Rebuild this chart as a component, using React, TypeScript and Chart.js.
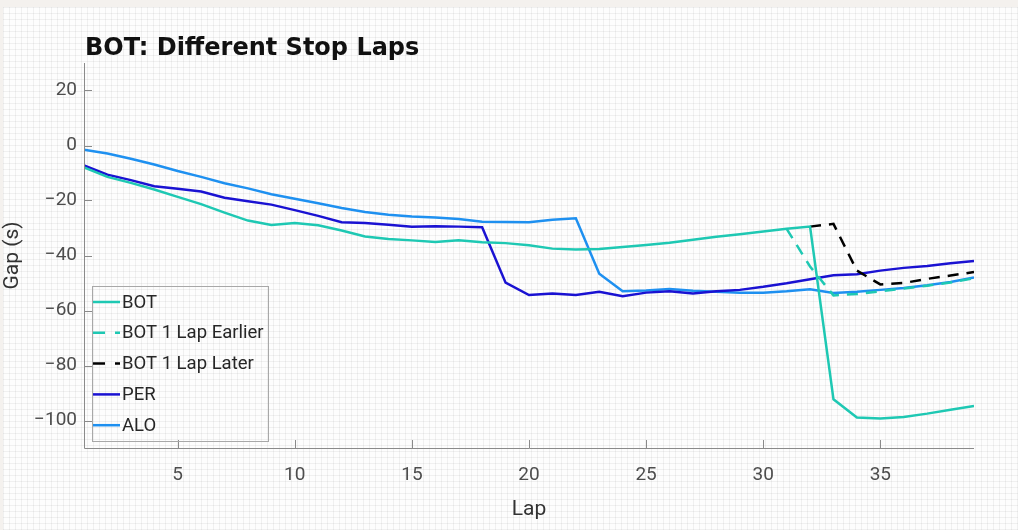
import React, { useEffect, useRef } from "react";
import { Chart, registerables } from "chart.js";

Chart.register(...registerables);

const titleText = "BOT: Different Stop Laps";
const xTitle = "Lap";
const yTitle = "Gap (s)";

const laps = [
  1, 2, 3, 4, 5, 6, 7, 8, 9, 10, 11, 12, 13, 14, 15, 16, 17, 18, 19, 20,
  21, 22, 23, 24, 25, 26, 27, 28, 29, 30, 31, 32, 33, 34, 35, 36, 37, 38, 39,
];

const bot = [
  -8, -11.4, -13.6, -16, -18.7, -21.3, -24.4, -27.3, -28.9, -28.2, -29, -30.9,
  -33.1, -34, -34.5, -35.1, -34.5, -35.2, -35.5, -36.3, -37.5, -37.8, -37.6,
  -36.9, -36.2, -35.4, -34.3, -33.2, -32.3, -31.3, -30.3, -29.5, -92.3, -98.9,
  -99.3, -98.7, -97.5, -96.1, -94.7,
];

const botEarlier = [
  null, null, null, null, null, null, null, null, null, null, null, null, null,
  null, null, null, null, null, null, null, null, null, null, null, null, null,
  null, null, null, null, -30.3, -44, -54.5, -54, -53, -52, -51, -49.8, -48.3,
];

const botLater = [
  null, null, null, null, null, null, null, null, null, null, null, null, null,
  null, null, null, null, null, null, null, null, null, null, null, null, null,
  null, null, null, null, null, -29.5, -28.5, -45.5, -50.5, -50, -48.5, -47.3,
  -46,
];

const per = [
  -7.2, -10.6, -12.6, -14.8, -15.7, -16.7, -19, -20.3, -21.5, -23.5, -25.6,
  -27.9, -28.2, -28.8, -29.5, -29.4, -29.5, -29.7, -49.9, -54.4, -53.8, -54.4,
  -53.2, -54.8, -53.5, -53, -53.8, -53, -52.5, -51.4, -50.1, -48.6, -47.2,
  -46.8, -45.5, -44.5, -43.8, -42.8, -42,
];

const alo = [
  -1.5, -2.9, -4.8, -6.9, -9.3, -11.4, -13.7, -15.6, -17.7, -19.4, -21, -22.7,
  -24.2, -25.2, -25.8, -26.2, -26.7, -27.7, -27.8, -27.9, -27, -26.5, -46.6,
  -53, -52.7, -52.2, -52.8, -53.2, -53.5, -53.5, -53, -52.3, -53.6, -53.2,
  -52.5, -51.8, -50.8, -49.6, -48,
];

const seriesLabels = ["BOT", "BOT 1 Lap Earlier", "BOT 1 Lap Later", "PER", "ALO"];
const seriesColors = ["#1ec8b3", "#1ec8b3", "#000000", "#1a12d2", "#1e90f0"];

const xTicks = [5, 10, 15, 20, 25, 30, 35];
const yTicks = [-100, -80, -60, -40, -20, 0, 20];
const xRange = [1, 39];
const yRange = [-110, 30];

const toPoints = (arr: (number | null)[]) =>
  laps
    .map((l, i) => ({ x: l, y: arr[i] }))
    .filter((p) => p.y !== null) as { x: number; y: number }[];

const FONT = "Roboto";
const DASH = [11, 8];

const decorPlugin = {
  id: "decor",
  afterDraw(chart: any) {
    const ctx = chart.ctx;
    const area = chart.chartArea;
    const xs = chart.scales.x;
    const ys = chart.scales.y;
    ctx.save();
    // axes lines
    ctx.strokeStyle = "#8a8a8a";
    ctx.lineWidth = 1;
    ctx.beginPath();
    ctx.moveTo(area.left + 0.5, area.top);
    ctx.lineTo(area.left + 0.5, area.bottom + 0.5);
    ctx.lineTo(area.right, area.bottom + 0.5);
    ctx.stroke();
    // inward ticks
    ctx.beginPath();
    yTicks.forEach((v) => {
      const py = Math.round(ys.getPixelForValue(v)) + 0.5;
      ctx.moveTo(area.left, py);
      ctx.lineTo(area.left + 8, py);
    });
    xTicks.forEach((v) => {
      const px = Math.round(xs.getPixelForValue(v)) + 0.5;
      ctx.moveTo(px, area.bottom);
      ctx.lineTo(px, area.bottom - 8);
    });
    ctx.stroke();

    // title
    ctx.fillStyle = "#111111";
    ctx.font = 'bold 24px "DejaVu Sans"';
    ctx.textBaseline = "alphabetic";
    ctx.textAlign = "left";
    ctx.fillText(titleText, area.left + 1, 55);

    // legend
    const bx = area.left + 8;
    const by = area.bottom - 162;
    const bw = 176;
    const bh = 155;
    ctx.strokeStyle = "#a8a8a8";
    ctx.lineWidth = 1;
    ctx.strokeRect(bx + 0.5, by + 0.5, bw, bh);
    ctx.font = `18.5px ${FONT}`;
    ctx.textBaseline = "middle";
    chart.data.datasets.forEach((ds: any, i: number) => {
      const cy = by + 16 + i * 30.8;
      ctx.strokeStyle = ds.borderColor;
      ctx.lineWidth = 2.5;
      ctx.setLineDash(ds.borderDash && ds.borderDash.length ? [12, 10] : []);
      ctx.beginPath();
      ctx.moveTo(bx + 1, cy);
      ctx.lineTo(bx + 28, cy);
      ctx.stroke();
      ctx.setLineDash([]);
      ctx.fillStyle = "#262626";
      ctx.fillText(ds.label, bx + 30, cy + 1);
    });
    ctx.restore();
  },
};

export default function App() {
  const canvasRef = useRef<HTMLCanvasElement | null>(null);

  useEffect(() => {
    const canvas = canvasRef.current;
    if (!canvas) return;
    const series = [bot, botEarlier, botLater, per, alo];
    const chart = new Chart(canvas, {
      type: "line",
      data: {
        datasets: series.map((arr, i) => ({
          label: seriesLabels[i],
          data: toPoints(arr),
          borderColor: seriesColors[i],
          backgroundColor: seriesColors[i],
          borderWidth: 2.5,
          borderDash: i === 1 || i === 2 ? DASH : [],
          pointRadius: 0,
          tension: 0,
          fill: false,
        })),
      },
      options: {
        responsive: false,
        animation: false,
        maintainAspectRatio: false,
        layout: { padding: { top: 63, right: 44, left: 0, bottom: 0 } },
        plugins: {
          legend: { display: false },
          title: { display: false },
          tooltip: { enabled: false },
        },
        scales: {
          x: {
            type: "linear",
            min: xRange[0],
            max: xRange[1],
            grid: { display: false, drawTicks: false },
            border: { display: false },
            afterBuildTicks: (scale: any) => {
              scale.ticks = xTicks.map((v) => ({ value: v }));
            },
            afterFit: (scale: any) => {
              scale.height = 82;
            },
            ticks: {
              padding: 16,
              color: "#4d4d4d",
              font: { family: FONT, size: 19 },
              maxRotation: 0,
              autoSkip: false,
            },
            title: {
              display: true,
              text: xTitle,
              color: "#333333",
              font: { family: FONT, size: 21 },
              padding: { top: 0, bottom: 8 },
            },
          },
          y: {
            type: "linear",
            min: yRange[0],
            max: yRange[1],
            grid: { display: false, drawTicks: false },
            border: { display: false },
            afterBuildTicks: (scale: any) => {
              scale.ticks = yTicks.map((v) => ({ value: v }));
            },
            afterFit: (scale: any) => {
              scale.width = 84;
            },
            ticks: {
              padding: 7,
              color: "#4d4d4d",
              font: { family: FONT, size: 19 },
              autoSkip: false,
              callback: (v: any) => String(v).replace("-", "\u2212"),
            },
            title: {
              display: true,
              text: yTitle,
              color: "#333333",
              font: { family: FONT, size: 21 },
              padding: { top: 0, bottom: 0 },
            },
          },
        },
      },
      plugins: [decorPlugin],
    } as any);
    return () => chart.destroy();
  }, []);

  const gridBg =
    "linear-gradient(rgba(0,0,0,0.05) 1px, transparent 1px), linear-gradient(90deg, rgba(0,0,0,0.05) 1px, transparent 1px)";

  return (
    <div
      style={{
        position: "fixed",
        left: 0,
        top: 0,
        width: 1018,
        height: 530,
        background: "#f4f1ee",
        overflow: "hidden",
      }}
    >
      <div
        style={{
          position: "absolute",
          left: 3,
          top: 7,
          right: 0,
          bottom: 0,
          backgroundColor: "#fdfdfd",
          backgroundImage: gridBg,
          backgroundSize: "6px 6px",
        }}
      />
      <canvas
        ref={canvasRef}
        width={1018}
        height={530}
        style={{ position: "absolute", left: 0, top: 0, display: "block" }}
      />
    </div>
  );
}
